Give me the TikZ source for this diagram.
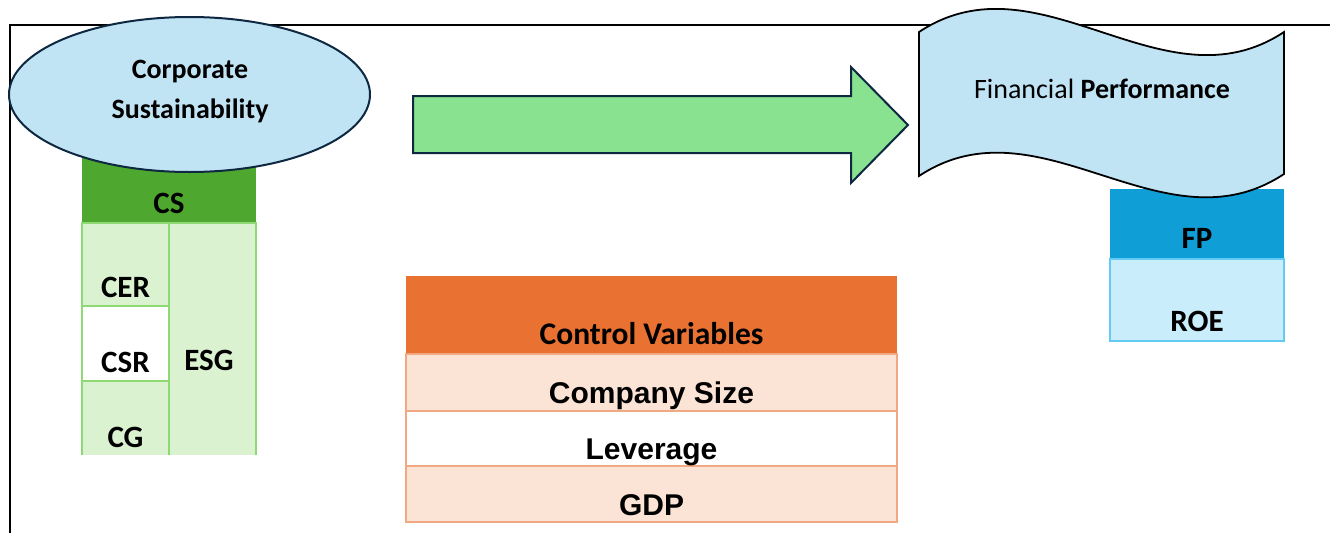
\documentclass[tikz,border=0pt]{standalone}
\usepackage{fontspec}
\setmainfont{Carlito}
\newfontfamily\arialfont{Liberation Sans}
\usetikzlibrary{shapes.geometric}
\definecolor{lblue}{HTML}{C1E4F5}
\definecolor{navy}{HTML}{0E2841}
\definecolor{csgreen}{HTML}{4EA72E}
\definecolor{cellgreen}{HTML}{DAF2D0}
\definecolor{bordgreen}{HTML}{8ED973}
\definecolor{arrgreen}{HTML}{88E290}
\definecolor{fpblue}{HTML}{0F9ED5}
\definecolor{roeblue}{HTML}{CAEDFB}
\definecolor{bordblue}{HTML}{61CBF3}
\definecolor{orange}{HTML}{E97132}
\definecolor{peach}{HTML}{FBE3D6}
\definecolor{bordorange}{HTML}{F1A983}
\begin{document}
\begin{tikzpicture}[x=1pt,y=-1pt,
  lbl/.style={anchor=base, inner sep=0pt, font=\fontsize{28}{34}\selectfont\bfseries},
  clbl/.style={anchor=base, inner sep=0pt, font=\fontsize{31}{36}\selectfont\bfseries},
  albl/.style={anchor=base, inner sep=0pt, font=\fontsize{30}{34}\selectfont\arialfont\bfseries},
  box/.style={rectangle, inner sep=0pt, minimum width=#1},
  gcell/.style={box=87pt, fill=cellgreen},
  orow/.style={box=491pt, fill=peach, draw=bordorange, line width=1.5pt},
]
\useasboundingbox (0,0) rectangle (1330,533);
% frame
\draw[line width=1.5pt] (10,533) -- (10,25) -- (1330,25);

% CS table
\node[box=174pt, minimum height=68pt, fill=csgreen] (cshead) at (169,189) {};
\node[gcell, minimum height=83pt] (cer) at (125.5,264.5) {};
\node[gcell, minimum height=75pt, fill=white] (csr) at (125.5,343.5) {};
\node[gcell, minimum height=74pt] (cg) at (125.5,418) {};
\node[gcell, minimum height=232pt] (esg) at (212.5,339) {};
\draw[bordgreen, line width=1.5pt] (cer.south west |- cg.south) -- (cer.north west) -- (esg.north east) -- (esg.south east);
\draw[bordgreen, line width=1.5pt] (esg.north west) -- (esg.south west);
\draw[bordgreen, line width=1.5pt] (cer.south west) -- (cer.south east);
\draw[bordgreen, line width=1.5pt] (csr.south west) -- (csr.south east);
\node[clbl] (cstxt) at (169,213) {CS};
\node[clbl] (certxt) at (125.5,297) {CER};
\node[clbl] (csrtxt) at (125.5,372) {CSR};
\node[clbl] (cgtxt) at (125.5,447) {CG};
\node[clbl] (esgtxt) at (209,370) {ESG};

% ellipse
\node[ellipse, draw=navy, line width=2pt, fill=lblue, minimum width=361pt, minimum height=155pt, inner sep=0pt] (cs) at (189.5,94.5) {};
\node[lbl] (cs1) at (190,78) {Corporate};
\node[lbl] (cs2) at (190,118) {Sustainability};

% arrow
\coordinate (arrtail) at (413,125);
\coordinate (arrtip) at (908,125);
\draw[fill=arrgreen, draw=navy, line width=2pt, line join=miter]
  (413,96) -- (851,96) -- (851,67) -- (arrtip) -- (851,183) -- (851,153) -- (413,153) -- cycle;

% control variables table
\node[box=491pt, minimum height=78pt, fill=orange] (cvhead) at (651.5,315) {};
\node[orow, minimum height=57pt] (size) at (651.5,382.5) {};
\node[orow, minimum height=55pt, fill=white] (lev) at (651.5,438.5) {};
\node[orow, minimum height=56pt] (gdp) at (651.5,494) {};
\node[clbl, font=\fontsize{31.5}{36}\selectfont\bfseries] (cvtxt) at (651.5,344) {Control Variables};
\node[albl] (sizetxt) at (651.5,403) {Company Size};
\node[albl] (levtxt) at (651.5,459) {Leverage};
\node[albl] (gdptxt) at (651.5,515) {GDP};

% FP table
\node[box=174pt, minimum height=70pt, fill=fpblue] (fphead) at (1197,224) {};
\node[box=174pt, minimum height=82pt, fill=roeblue, draw=bordblue, line width=1.5pt] (roe) at (1197,300) {};
\node[clbl] (fptxt) at (1197,248) {FP};
\node[clbl] (roetxt) at (1197,331) {ROE};

% wave
\draw[fill=lblue, draw=black, line width=1.8pt, line join=miter]
  (919,32) .. controls (1040,-48) and (1163,112) .. (1284,32)
  -- (1284,174) .. controls (1163,254) and (1040,96) .. (919,176) -- cycle;
\node[anchor=base, inner sep=0pt, font=\fontsize{28}{34}\selectfont] (fin) at (1102,98) {Financial \textbf{Performance}};
\end{tikzpicture}
\end{document}
